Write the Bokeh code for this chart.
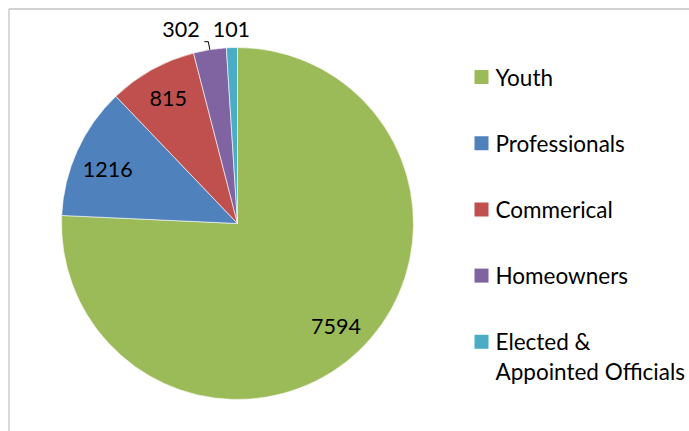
import math
from bokeh.plotting import figure
from bokeh.models import Range1d, ColumnDataSource
from bokeh.core.properties import value
from bokeh.embed import file_html
from bokeh.resources import INLINE

categories = ["Youth", "Professionals", "Commerical", "Homeowners", "Elected & Appointed Officials"]
legend_labels = ["Youth", "Professionals", "Commerical", "Homeowners", "Elected &\nAppointed Officials"]
counts = [7594, 1216, 815, 302, 101]
colors = ["#9BBB59", "#4F81BD", "#C0504D", "#8064A2", "#4BACC6"]

W, H = 689, 431
FONT = "Lato"

p = figure(width=W, height=H, output_backend="svg", toolbar_location=None,
           x_range=Range1d(0, W), y_range=Range1d(0, H),
           x_axis_type=None, y_axis_type=None, min_border=0)
p.outline_line_color = None
p.xgrid.visible = False
p.ygrid.visible = False
p.background_fill_color = "white"

# chart border (decoration)
p.quad(left=[8.5], right=[W + 10], top=[H - 8.5], bottom=[-10],
       fill_color=None, line_color="#C4C4C4", line_width=1.3)

cx, cy, R = 237, 208, 176
total = sum(counts)
starts, ends, mids = [], [], []
cum = 0.0
for c in counts:
    a0 = math.pi / 2 - cum / total * 2 * math.pi
    cum += c
    a1 = math.pi / 2 - cum / total * 2 * math.pi
    starts.append(a0)
    ends.append(a1)
    mids.append((a0 + a1) / 2)

src = ColumnDataSource(dict(start=starts, end=ends, color=colors, cat=categories))
p.wedge(x=cx, y=cy, radius=R, start_angle="start", end_angle="end", direction="clock",
        fill_color="color", line_color="white", line_width=0.6, source=src)

# data labels
lx, ly, ltxt = [], [], []
for i, (c, m) in enumerate(zip(counts, mids)):
    frac = c / total
    if frac > 0.05:
        rr = 0.81 * R
        lx.append(cx + rr * math.cos(m))
        ly.append(cy + rr * math.sin(m) - (5 if i == 1 else 0))
    else:
        ry = cy + 1.10 * R
        bx = cx + 1.10 * R * math.cos(m)
        if i == 3:
            bx -= 26
        lx.append(bx)
        ly.append(ry)
    ltxt.append(str(c))

p.text(x=lx, y=ly, text=ltxt, text_align="center", text_baseline="middle",
       text_font=value(FONT), text_font_size="21.5px", text_color="black")

# leader line for Homeowners label
m = mids[3]
ex, ey = cx + R * math.cos(m), cy + R * math.sin(m)
p.line(x=[ex - 5.5, ex - 1.5, ex], y=[ey + 8, ey + 8, ey], line_color="black", line_width=1)

# legend
leg_x = 481
leg_y0 = H - 76.5
leg_dy = 66.2
line_gap = 30
my = [leg_y0 - i * leg_dy for i in range(len(categories))]
p.scatter(x=[leg_x] * len(categories), y=my, marker="square", size=14,
          fill_color=colors, line_color=None)
tx, ty, tt = [], [], []
for y, lab in zip(my, legend_labels):
    for k, part in enumerate(lab.split("\n")):
        tx.append(495)
        ty.append(y - k * line_gap)
        tt.append(part)
p.text(x=tx, y=ty, text=tt, text_align="left", text_baseline="middle",
       text_font=value(FONT), text_font_size="22.5px", text_color="black")

open("out.html", "w").write(file_html(p, INLINE))
